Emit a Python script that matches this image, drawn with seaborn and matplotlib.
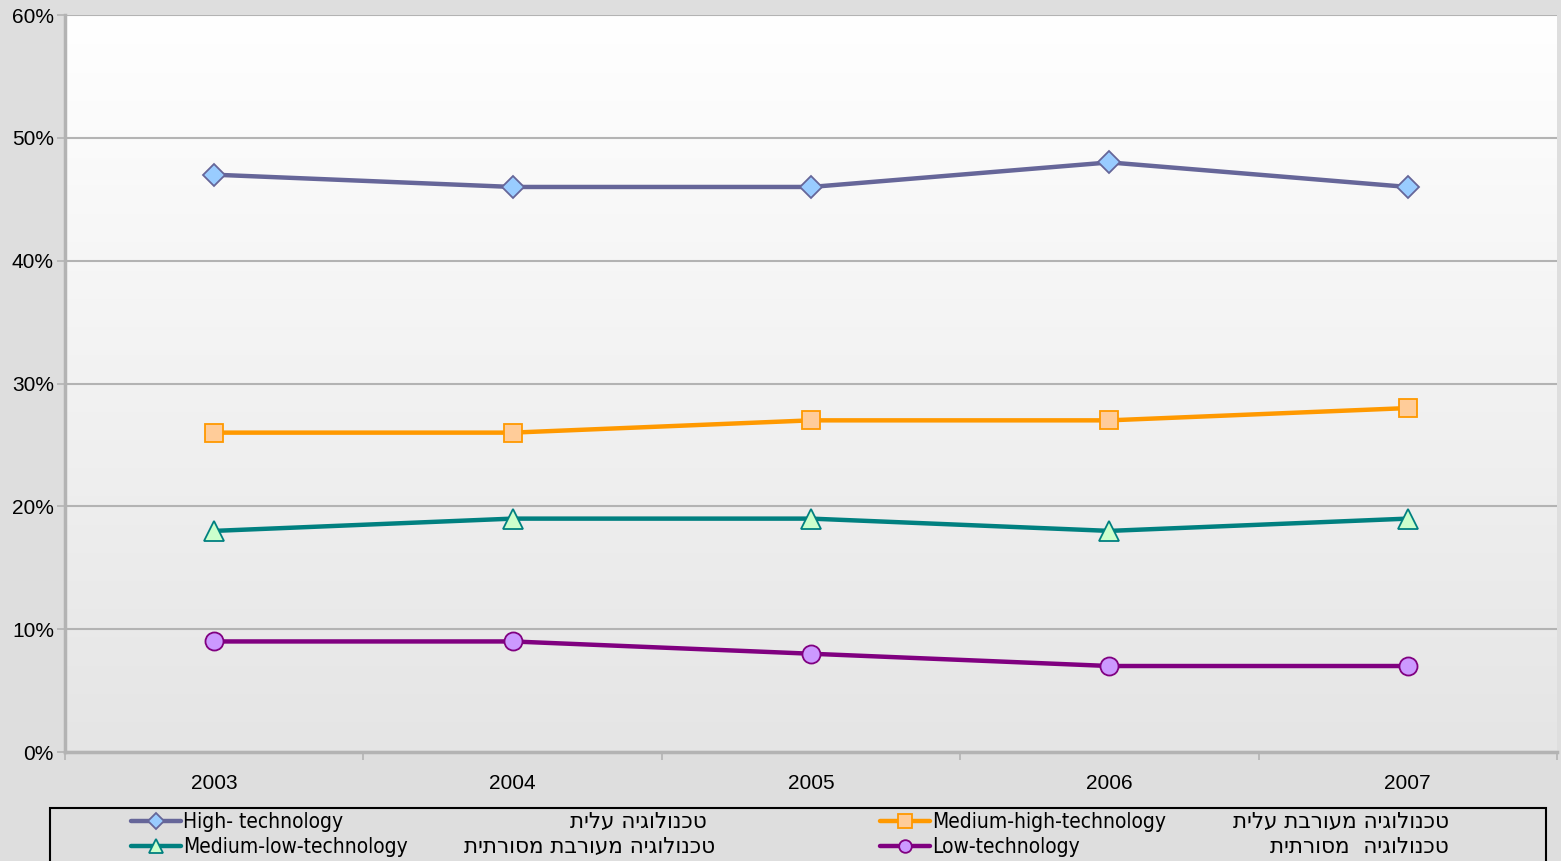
import numpy as np
import pandas as pd
import matplotlib
matplotlib.use("Agg")
import matplotlib.pyplot as plt
import seaborn as sns
from matplotlib.ticker import FixedLocator, FuncFormatter
from matplotlib.patches import Rectangle

# ---- data ----
years = ["2003", "2004", "2005", "2006", "2007"]
high_tech = [47, 46, 46, 48, 46]
medium_high_tech = [26, 26, 27, 27, 28]
medium_low_tech = [18, 19, 19, 18, 19]
low_tech = [9, 9, 8, 7, 7]
labels_en = ["High- technology", "Medium-high-technology", "Medium-low-technology", "Low-technology"]
labels_he = ["טכנולוגיה עלית", "טכנולוגיה מעורבת עלית", "טכנולוגיה מעורבת מסורתית", "טכנולוגיה  מסורתית"]
y_ticks = [0, 10, 20, 30, 40, 50, 60]

series = [high_tech, medium_high_tech, medium_low_tech, low_tech]
styles = [
    dict(color="#666699", marker="D", mfc="#99ccff", ms=11),
    dict(color="#ff9900", marker="s", mfc="#ffcc99", ms=13.5),
    dict(color="#008080", marker="^", mfc="#ccffcc", ms=14),
    dict(color="#800080", marker="o", mfc="#cc99ff", ms=13),
]

sns.set_theme(style="white")
plt.rcParams["font.family"] = ["Liberation Sans", "DejaVu Sans"]

W, H = 1561, 861
fig = plt.figure(figsize=(W / 100, H / 100), dpi=100)
fig.patch.set_facecolor("#dedede")
ax = fig.add_axes([65 / W, 1 - 752 / H, (1557 - 65) / W, (752 - 15) / H])

# gradient plot background
grad = np.linspace(1.0, 0.0, 256).reshape(-1, 1)
top_c = np.array([1.0, 1.0, 1.0])
bot_c = np.array([0.898, 0.898, 0.898])
img = grad[..., None] * top_c + (1 - grad[..., None]) * bot_c
ax.imshow(img, extent=[0, 1, 0, 1], transform=ax.transAxes, aspect="auto", zorder=0)

xpos = np.arange(len(years))
handles = []
for vals, st, lab in zip(series, styles, labels_en):
    df = pd.DataFrame({"x": xpos, "y": vals})
    sns.lineplot(data=df, x="x", y="y", ax=ax, color=st["color"], lw=3.2,
                 marker=st["marker"], markersize=st["ms"], markerfacecolor=st["mfc"],
                 markeredgecolor=st["color"], markeredgewidth=1.3, zorder=3, label=lab,
                 legend=False)
    handles.append(ax.lines[-1])

ax.set_xlim(-0.5, len(years) - 0.5)
ax.set_ylim(0, 60)
ax.set_xlabel("")
ax.set_ylabel("")

ax.yaxis.set_major_locator(FixedLocator(y_ticks))
ax.yaxis.set_major_formatter(FuncFormatter(lambda v, p: f"{int(v)}%"))
ax.grid(axis="y", color="#b3b3b3", lw=1.5, zorder=1)
ax.set_axisbelow(False)
for ln in ax.get_ygridlines():
    ln.set_zorder(1)

ax.set_xticks(xpos)
ax.set_xticklabels(years)
ax.set_xticks(np.arange(-0.5, len(years)), minor=True)
ax.tick_params(axis="x", which="major", length=0, pad=16, labelsize=15, labelcolor="black")
ax.tick_params(axis="x", which="minor", length=6, width=1.2, color="#b3b3b3", direction="out", bottom=True)
ax.tick_params(axis="y", which="major", length=6, width=1.2, color="#b3b3b3", direction="out",
               left=True, pad=2, labelsize=15, labelcolor="black")

for s in ["top", "right"]:
    ax.spines[s].set_visible(False)
for s in ["left", "bottom"]:
    ax.spines[s].set_color("#b3b3b3")
    ax.spines[s].set_linewidth(2.5)

# legend frame
fig.patches.append(Rectangle((50 / W, -0.02), (1546 - 50) / W, 0.02 + (861 - 808) / H,
                             transform=fig.transFigure, fill=False, ec="black", lw=1.5))

leg_font = dict(family=["DejaVu Sans"], size=15, stretch="condensed")
col_x = [131, 880]
row_y = [822, 847]
he_right = [[707, 1449], [715, 1449]]
for i, (h, lab) in enumerate(zip(handles, labels_en)):
    col = i % 2
    row = i // 2
    leg = fig.legend([h], [lab], loc="center left",
                     bbox_to_anchor=(col_x[col] / W, 1 - row_y[row] / H),
                     frameon=False, borderpad=0, borderaxespad=0, handlelength=2.4,
                     handletextpad=0.08, prop=leg_font, markerscale=0.7)
    for t in leg.get_texts():
        t.set_color("black")
    fig.text(he_right[row][col] / W, 1 - row_y[row] / H, labels_he[i][::-1],
             ha="right", va="center", fontsize=15.5, family=["DejaVu Sans"], color="black")

fig.savefig("out.png", dpi=100, facecolor=fig.get_facecolor())
